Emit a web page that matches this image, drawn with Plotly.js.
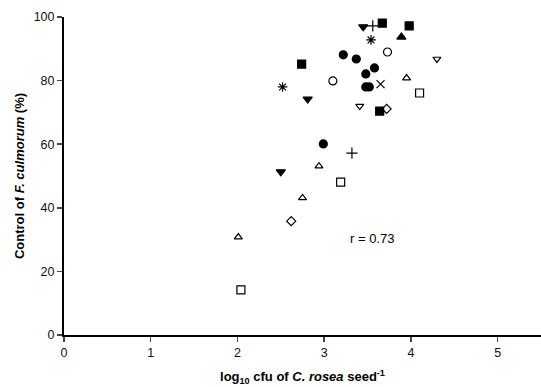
<!DOCTYPE html>
<html><head><meta charset="utf-8">
<script src="https://cdn.plot.ly/plotly-3.0.1.min.js"></script>
<style>html,body{margin:0;padding:0;background:#fff}#chart{width:541px;height:387px}</style>
</head><body><div id="chart"></div>
<script>
// Each strain / symbol: log10 cfu (x) and control % (y)
const filledCircleX = [3.22, 3.37, 3.58, 3.48, 3.48, 3.52, 2.99];
const filledCircleY = [88.1, 86.8, 84.0, 82.1, 78.0, 78.0, 60.1];
const filledSquareX = [3.67, 3.98, 2.74, 3.64];
const filledSquareY = [98.1, 97.2, 85.2, 70.4];
const filledTriUpX = [3.89];
const filledTriUpY = [93.7];
const filledTriDownX = [3.45, 2.81, 2.50];
const filledTriDownY = [96.9, 74.2, 51.3];
const openCircleX = [3.73, 3.10];
const openCircleY = [89.0, 79.9];
const openSquareX = [4.10, 3.19, 2.04];
const openSquareY = [76.1, 48.1, 14.2];
const openTriUpX = [3.95, 2.94, 2.75, 2.01];
const openTriUpY = [80.8, 53.1, 43.1, 30.8];
const openTriDownX = [3.41, 4.30];
const openTriDownY = [72.0, 86.8];
const openDiamondX = [3.72, 2.62];
const openDiamondY = [71.1, 35.8];
const plusX = [3.56, 3.32];
const plusY = [97.2, 57.2];
const crossX = [3.65];
const crossY = [78.9];
const asteriskX = [3.54, 2.52];
const asteriskY = [92.8, 78.0];
const xTicks = [0, 1, 2, 3, 4, 5];
const yTicks = [0, 20, 40, 60, 80, 100];
const rLabel = "r = 0.73";

function tr(x, y, symbol, size) {
  return {x: x, y: y, type: 'scatter', mode: 'markers', hoverinfo: 'skip',
    marker: {symbol: symbol, size: size, color: '#000', line: {color: '#000', width: 1.2}}};
}
const data = [
  tr(filledCircleX, filledCircleY, 'circle', 8),
  tr(filledSquareX, filledSquareY, 'square', 8),
  tr(filledTriUpX, filledTriUpY, 'triangle-up', 8),
  tr(filledTriDownX, filledTriDownY, 'triangle-down', 8),
  tr(openCircleX, openCircleY, 'circle-open', 8),
  tr(openSquareX, openSquareY, 'square-open', 8),
  tr(openTriUpX, openTriUpY, 'triangle-up-open', 7),
  tr(openTriDownX, openTriDownY, 'triangle-down-open', 7),
  tr(openDiamondX, openDiamondY, 'diamond-open', 7),
  tr(plusX, plusY, 'cross-thin-open', 8),
  tr(crossX, crossY, 'x-thin-open', 8),
  tr(asteriskX, asteriskY, 'asterisk-open', 8)
];
const font = {family: 'Liberation Sans, Arial, sans-serif', size: 12, color: '#111'};
const layout = {
  width: 541, height: 387, showlegend: false,
  paper_bgcolor: '#fff', plot_bgcolor: '#fff',
  margin: {l: 64, r: 0, t: 17, b: 52},
  font: font,
  xaxis: {range: [0, 5.5], tickvals: xTicks, ticks: 'outside', ticklen: 5, tickwidth: 1.5,
    showline: true, linewidth: 2, linecolor: '#000', showgrid: false, zeroline: false,
    tickfont: {size: 12.5, color: '#111'}, automargin: false,
    title: {text: '<b>log<sub>10</sub> cfu of <i>C. rosea</i> seed<sup>-1</sup></b>', font: {size: 13, color: '#000'}, standoff: 13}},
  yaxis: {range: [0, 100], tickvals: yTicks, ticks: 'outside', ticklen: 5, tickwidth: 1.5,
    showline: true, linewidth: 2, linecolor: '#000', showgrid: false, zeroline: false,
    tickfont: {size: 12.5, color: '#111'}, automargin: false,
    title: {text: '<b>Control of <i>F. culmorum</i> (%)</b>', font: {size: 13, color: '#000'}, standoff: 6}},
  annotations: [{x: 3.55, y: 30.5, xref: 'x', yref: 'y', text: rLabel, showarrow: false,
    font: {size: 13, color: '#000'}}]
};
Plotly.newPlot('chart', data, layout, {displayModeBar: false, staticPlot: true});
</script></body></html>
